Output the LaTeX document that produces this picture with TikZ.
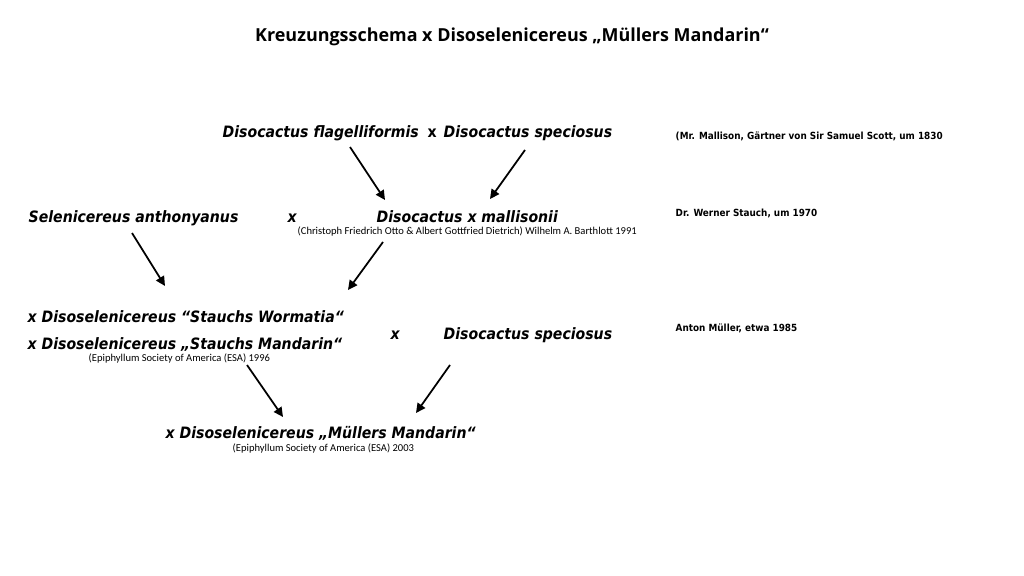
\documentclass[tikz,border=0pt]{standalone}
\usepackage{fontspec}
\setmainfont{Open Sans}
\newfontfamily\notefont{Carlito}
\newfontfamily\namefont{DejaVu Sans Condensed}
\usepackage{tikz}
\usetikzlibrary{arrows.meta, positioning, calc}

\begin{document}
\begin{tikzpicture}[
        x=0.01cm, y=-0.01cm,
        ttl/.style={inner sep=0pt, anchor=base, font=\bfseries\fontsize{5.1}{6}\selectfont},
        tx/.style={inner sep=0pt, anchor=base west, font=\namefont\bfseries\itshape\fontsize{4.45}{5.5}\selectfont},
        sub/.style={inner sep=0pt, anchor=base west, font=\notefont\fontsize{3}{3.6}\selectfont},
        note/.style={inner sep=0pt, anchor=base west, font=\namefont\bfseries\fontsize{2.8}{3.4}\selectfont},
        arr/.style={draw=black, line width=0.5pt, -{Triangle[length=2.7pt,width=2.6pt]}}
      ]
        \useasboundingbox (0,0) rectangle (1024,576);
        % title
        \node[ttl] (title) at (512,42) {Kreuzungsschema x Disoselenicereus „Müllers Mandarin“};
        % first cross
        \node[tx] (flag) at (222,138) {Disocactus flagelliformis};
        \node[tx, font=\namefont\bfseries\fontsize{4.45}{5.5}\selectfont] (x1) at (427,138) {x};
        \node[tx] (spec1) at (443,138) {Disocactus speciosus};
        \node[note] (n1) at (675,140) {(Mr. Mallison, Gärtner von Sir Samuel Scott, um 1830};
        % second cross
        \node[tx] (sel) at (28,222) {Selenicereus anthonyanus};
        \node[tx] (x2) at (287,222) {x};
        \node[tx] (mall) at (376,222) {Disocactus x mallisonii};
        \node[sub] (mallsub) at (297,235) {(Christoph Friedrich Otto \& Albert Gottfried Dietrich) Wilhelm A. Barthlott 1991};
        \node[note] (n2) at (675,217) {Dr. Werner Stauch, um 1970};
        % third cross
        \node[tx] (worm) at (27,322) {x Disoselenicereus “Stauchs Wormatia“};
        \node[tx] (stman) at (27,349) {x Disoselenicereus „Stauchs Mandarin“};
        \node[sub] (stmansub) at (88,361) {(Epiphyllum Society of America (ESA) 1996};
        \node[tx] (x3) at (390,339) {x};
        \node[tx] (spec2) at (443,339) {Disocactus speciosus};
        \node[note] (n3) at (675,331) {Anton Müller, etwa 1985};
        % result
        \node[tx] (muell) at (165,438) {x Disoselenicereus „Müllers Mandarin“};
        \node[sub] (muellsub) at (232,451) {(Epiphyllum Society of America (ESA) 2003};
        % arrow ends
        \coordinate (a1) at (350,147); \coordinate (b1) at (385,200);
        \coordinate (a2) at (525,150); \coordinate (b2) at (490,199);
        \coordinate (a3) at (132,233); \coordinate (b3) at (165,286);
        \coordinate (a4) at (383,242); \coordinate (b4) at (348,290);
        \coordinate (a5) at (247,365); \coordinate (b5) at (283,417);
        \coordinate (a6) at (450,365); \coordinate (b6) at (416,413);
        \draw[arr] (a1)--(b1); \draw[arr] (a2)--(b2);
        \draw[arr] (a3)--(b3); \draw[arr] (a4)--(b4);
        \draw[arr] (a5)--(b5); \draw[arr] (a6)--(b6);
      \end{tikzpicture}
\end{document}
